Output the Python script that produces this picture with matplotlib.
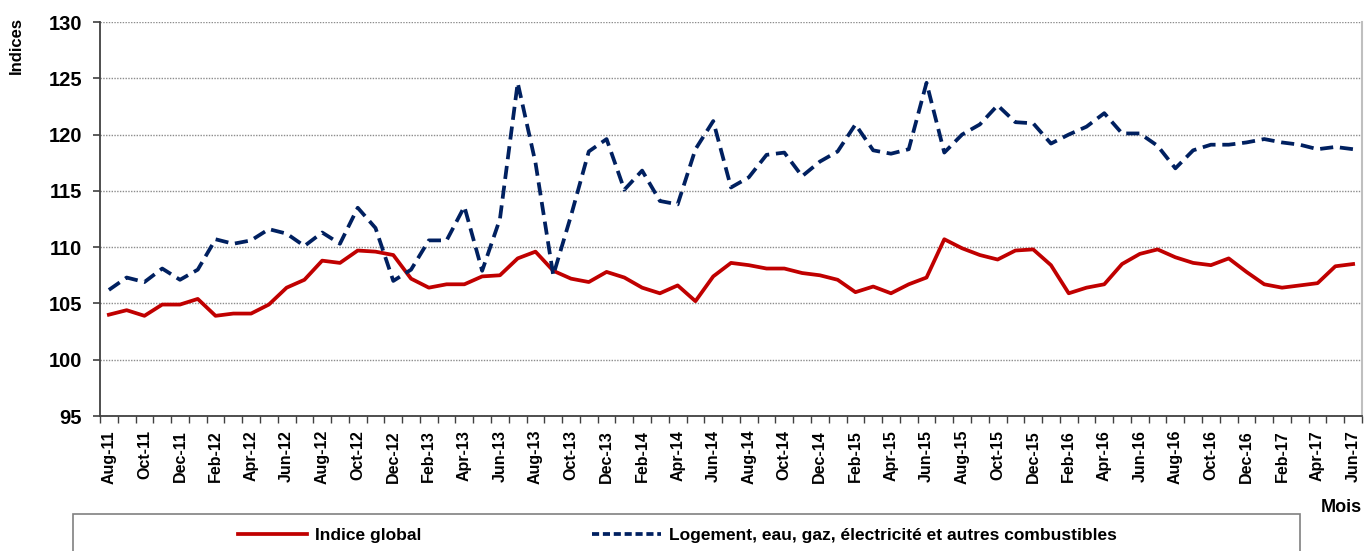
import pandas as pd
import numpy as np
import matplotlib
matplotlib.use('Agg')
import matplotlib.pyplot as plt
from matplotlib.lines import Line2D
from matplotlib.patches import Rectangle

plt.rcParams['font.family'] = ['Liberation Sans', 'DejaVu Sans']

months = pd.date_range('2011-08-01', periods=71, freq='MS')
month_labels = [m.strftime('%b-%y') for m in months]

indice_global = [104.0, 104.4, 103.9, 104.9, 104.9, 105.4, 103.9, 104.1, 104.1, 104.9, 106.4, 107.1,
                 108.8, 108.6, 109.7, 109.6, 109.3, 107.2,
                 106.4, 106.7, 106.7, 107.4, 107.5, 109.0, 109.6, 107.9, 107.2, 106.9, 107.8, 107.3,
                 106.4, 105.9, 106.6, 105.2, 107.4, 108.6,
                 108.4, 108.1, 108.1, 107.7, 107.5, 107.1, 106.0, 106.5, 105.9, 106.7, 107.3, 110.7,
                 109.9, 109.3, 108.9, 109.7, 109.8, 108.4,
                 105.9, 106.4, 106.7, 108.5, 109.4, 109.8, 109.1, 108.6, 108.4, 109.0, 107.8, 106.7,
                 106.4, 106.6, 106.8, 108.3, 108.5]

logement = [106.2, 107.3, 106.9, 108.1, 107.1, 108.0, 110.7, 110.3, 110.6, 111.6, 111.2, 110.1,
            111.3, 110.3, 113.5, 111.7, 107.0, 108.0,
            110.6, 110.6, 113.6, 107.9, 112.5, 124.6, 117.5, 107.5, 112.8, 118.5, 119.6, 115.1,
            116.8, 114.1, 113.8, 118.7, 121.2, 115.3,
            116.2, 118.2, 118.4, 116.3, 117.6, 118.5, 120.9, 118.6, 118.3, 118.7, 124.6, 118.4,
            120.0, 120.9, 122.6, 121.1, 121.0, 119.2,
            120.0, 120.7, 121.9, 120.1, 120.1, 119.0, 117.0, 118.6, 119.1, 119.1, 119.3, 119.6,
            119.3, 119.1, 118.7, 118.9, 118.7]

series_names = ['Indice global', 'Logement, eau, gaz, électricité et autres combustibles']
y_ticks = [95, 100, 105, 110, 115, 120, 125, 130]

W, H = 1367, 551
fig = plt.figure(figsize=(W / 100, H / 100), dpi=100)
ax = fig.add_axes([100 / W, (H - 416) / H, 1262 / W, 394 / H])

x = np.arange(len(months))
red = '#C00000'
blue = '#002060'
ax.plot(x, indice_global, color=red, lw=2.7, zorder=3)
ax.plot(x, logement, color=blue, lw=2.7, dashes=(3.5, 1.8), zorder=3)

ax.set_xlim(-0.5, len(months) - 0.5)
ax.set_ylim(95, 130)
ax.set_yticks(y_ticks)
ax.set_yticklabels([str(v) for v in y_ticks], fontsize=14.5, fontweight='bold')
ax.tick_params(axis='y', direction='out', length=5, width=1.2, pad=8, color='#404040')

ax.set_xticks(x[::2])
ax.set_xticklabels(month_labels[::2], rotation=90, fontsize=11.5, fontweight='bold')
ax.set_xticks(np.arange(-0.5, len(months), 1), minor=True)
ax.tick_params(axis='x', which='major', length=0, pad=10)
ax.tick_params(axis='x', which='minor', direction='out', length=5, width=1, color='#404040')

ax.grid(axis='y', color='#8c8c8c', lw=1, linestyle=(0, (1, 1)))
ax.set_axisbelow(True)
for s in ['left', 'bottom']:
    ax.spines[s].set_color('#404040')
    ax.spines[s].set_linewidth(1.3)
ax.spines['top'].set_visible(False)
ax.spines['right'].set_color('#BFBFBF')
ax.spines['right'].set_linewidth(1.5)

fig.text(16 / W, 1 - 46 / H, 'Indices', rotation=90, ha='center', va='center',
         fontsize=12, fontweight='bold')
fig.text(1341 / W, 1 - 507 / H, 'Mois', ha='center', va='center',
         fontsize=13, fontweight='bold')

# legend frame (cut off at the bottom like the original)
fig.patches.append(Rectangle((73 / W, -0.05), (1300 - 73) / W, 0.05 + (H - 514) / H,
                             transform=fig.transFigure, fill=False, edgecolor='#808080',
                             lw=1.2, clip_on=False))
handles = [Line2D([], [], color=red, lw=2.7),
           Line2D([], [], color=blue, lw=2.7, dashes=(1.9, 1.0))]
anchors = [238, 592]
for h, name, ax_x in zip(handles, series_names, anchors):
    fig.legend([h], [name], loc='center left', bbox_to_anchor=(ax_x / W, 1 - 535 / H),
               frameon=False, borderpad=0, borderaxespad=0, handlelength=4.0,
               handletextpad=0.45, prop={'size': 12.5, 'weight': 'bold'})

fig.savefig('out.png', dpi=100)
